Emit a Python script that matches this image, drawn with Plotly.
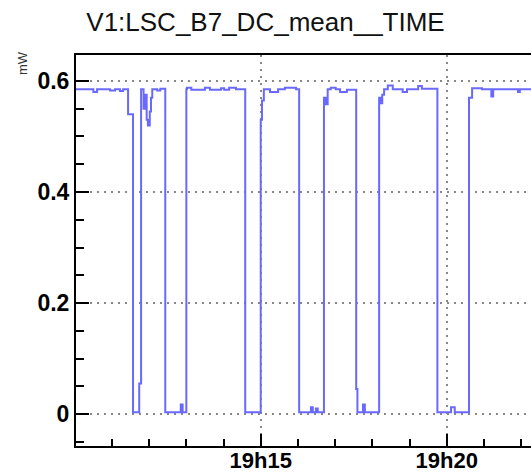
import plotly.graph_objects as go

DAY = "2024-01-01 "
times = [
    "19:10:02", "19:10:30", "19:10:36", "19:10:57", "19:11:05", "19:11:13", "19:11:18", "19:11:26",
    "19:11:34", "19:11:44", "19:11:47", "19:11:51", "19:11:53", "19:11:56", "19:11:58", "19:12:01",
    "19:12:03", "19:12:05", "19:12:13", "19:12:18", "19:12:26", "19:12:51", "19:12:54", "19:13:00",
    "19:13:01", "19:13:08", "19:13:30", "19:13:38", "19:13:56", "19:14:01", "19:14:09", "19:14:20",
    "19:14:35", "19:15:00", "19:15:02", "19:15:05", "19:15:15", "19:15:28", "19:15:39", "19:15:57",
    "19:16:02", "19:16:21", "19:16:24", "19:16:29", "19:16:32", "19:16:42", "19:16:45", "19:16:48",
    "19:16:53", "19:17:01", "19:17:08", "19:17:19", "19:17:34", "19:17:36", "19:17:45", "19:17:48",
    "19:18:11", "19:18:13", "19:18:16", "19:18:19", "19:18:25", "19:18:33", "19:18:49", "19:18:56",
    "19:19:14", "19:19:20", "19:19:45", "19:20:07", "19:20:13", "19:20:36", "19:20:41", "19:20:57",
    "19:21:12", "19:21:15", "19:21:55", "19:21:58", "19:22:30",
]
values_mW = [
    0.585, 0.580, 0.585, 0.583, 0.585, 0.582, 0.585, 0.540,
    0.003, 0.055, 0.585, 0.550, 0.575, 0.530, 0.520, 0.545,
    0.570, 0.585, 0.583, 0.586, 0.003, 0.017, 0.003, 0.585,
    0.588, 0.584, 0.588, 0.584, 0.587, 0.584, 0.588, 0.585,
    0.003, 0.530, 0.565, 0.585, 0.580, 0.585, 0.588, 0.585,
    0.003, 0.012, 0.003, 0.010, 0.003, 0.570, 0.558, 0.585,
    0.588, 0.585, 0.580, 0.584, 0.045, 0.003, 0.017, 0.003,
    0.570, 0.560, 0.575, 0.585, 0.592, 0.585, 0.580, 0.585,
    0.591, 0.586, 0.003, 0.012, 0.003, 0.570, 0.587, 0.585,
    0.572, 0.585, 0.580, 0.585, 0.585,
]
x_range = ["19:10:02", "19:22:16"]
y_range = [-0.0576, 0.6468]
title_text = "V1:LSC_B7_DC_mean__TIME"
y_unit = "mW"

fig = go.Figure()
fig.add_trace(go.Scatter(
    x=[DAY + t for t in times], y=values_mW, mode="lines",
    line=dict(color="rgb(105,105,255)", width=2, shape="hv"),
    hoverinfo="skip", showlegend=False,
))

font_family = "Liberation Sans, Arial, Helvetica, sans-serif"
fig.update_layout(
    width=531, height=476,
    margin=dict(l=76, r=0, t=55, b=30, autoexpand=False),
    paper_bgcolor="white", plot_bgcolor="white",
    title=dict(text=title_text, x=0.5, xanchor="center", y=1 - 22 / 476, yanchor="middle",
               font=dict(family=font_family, size=26, color="#111")),
    font=dict(family=font_family, color="black"),
)
fig.update_xaxes(
    type="date", range=[DAY + x_range[0], DAY + x_range[1]], automargin=False,
    tickformat="%Hh%M", dtick=300000, tick0=DAY + "19:15:00",
    ticks="inside", ticklen=12, tickwidth=2, tickcolor="black",
    showline=True, linecolor="black", linewidth=2, mirror=True,
    showgrid=True, gridcolor="#888", griddash="2px,5px", gridwidth=1.5,
    zeroline=False,
    minor=dict(dtick=60000, tick0=DAY + "19:15:00", ticks="inside", ticklen=7,
               tickwidth=2, tickcolor="black", showgrid=False),
    tickfont=dict(family=font_family, size=22, color="black", weight="bold"),
    ticklabelstandoff=-6,
)
fig.update_yaxes(
    range=y_range, tickvals=[0, 0.2, 0.4, 0.6], ticktext=["0", "0.2", "0.4", "0.6"],
    automargin=False,
    ticks="inside", ticklen=13, tickwidth=2, tickcolor="black",
    showline=True, linecolor="black", linewidth=2, mirror=False,
    showgrid=True, gridcolor="#888", griddash="2px,5px", gridwidth=1.5,
    zeroline=False,
    minor=dict(dtick=0.05, tick0=0, ticks="inside", ticklen=8, tickwidth=2,
               tickcolor="black", showgrid=False),
    tickfont=dict(family=font_family, size=23, color="black", weight="bold"),
)
fig.add_annotation(
    text=y_unit, xref="paper", yref="paper", x=(22 - 76) / 455, y=(446 - 63) / 391,
    xanchor="center", yanchor="middle", textangle=-90, showarrow=False,
    font=dict(family=font_family, size=13, color="#333"),
)
fig.write_html("out.html", config={"displayModeBar": False},
               post_script="document.body.style.margin='0';document.body.style.overflow='hidden';")
